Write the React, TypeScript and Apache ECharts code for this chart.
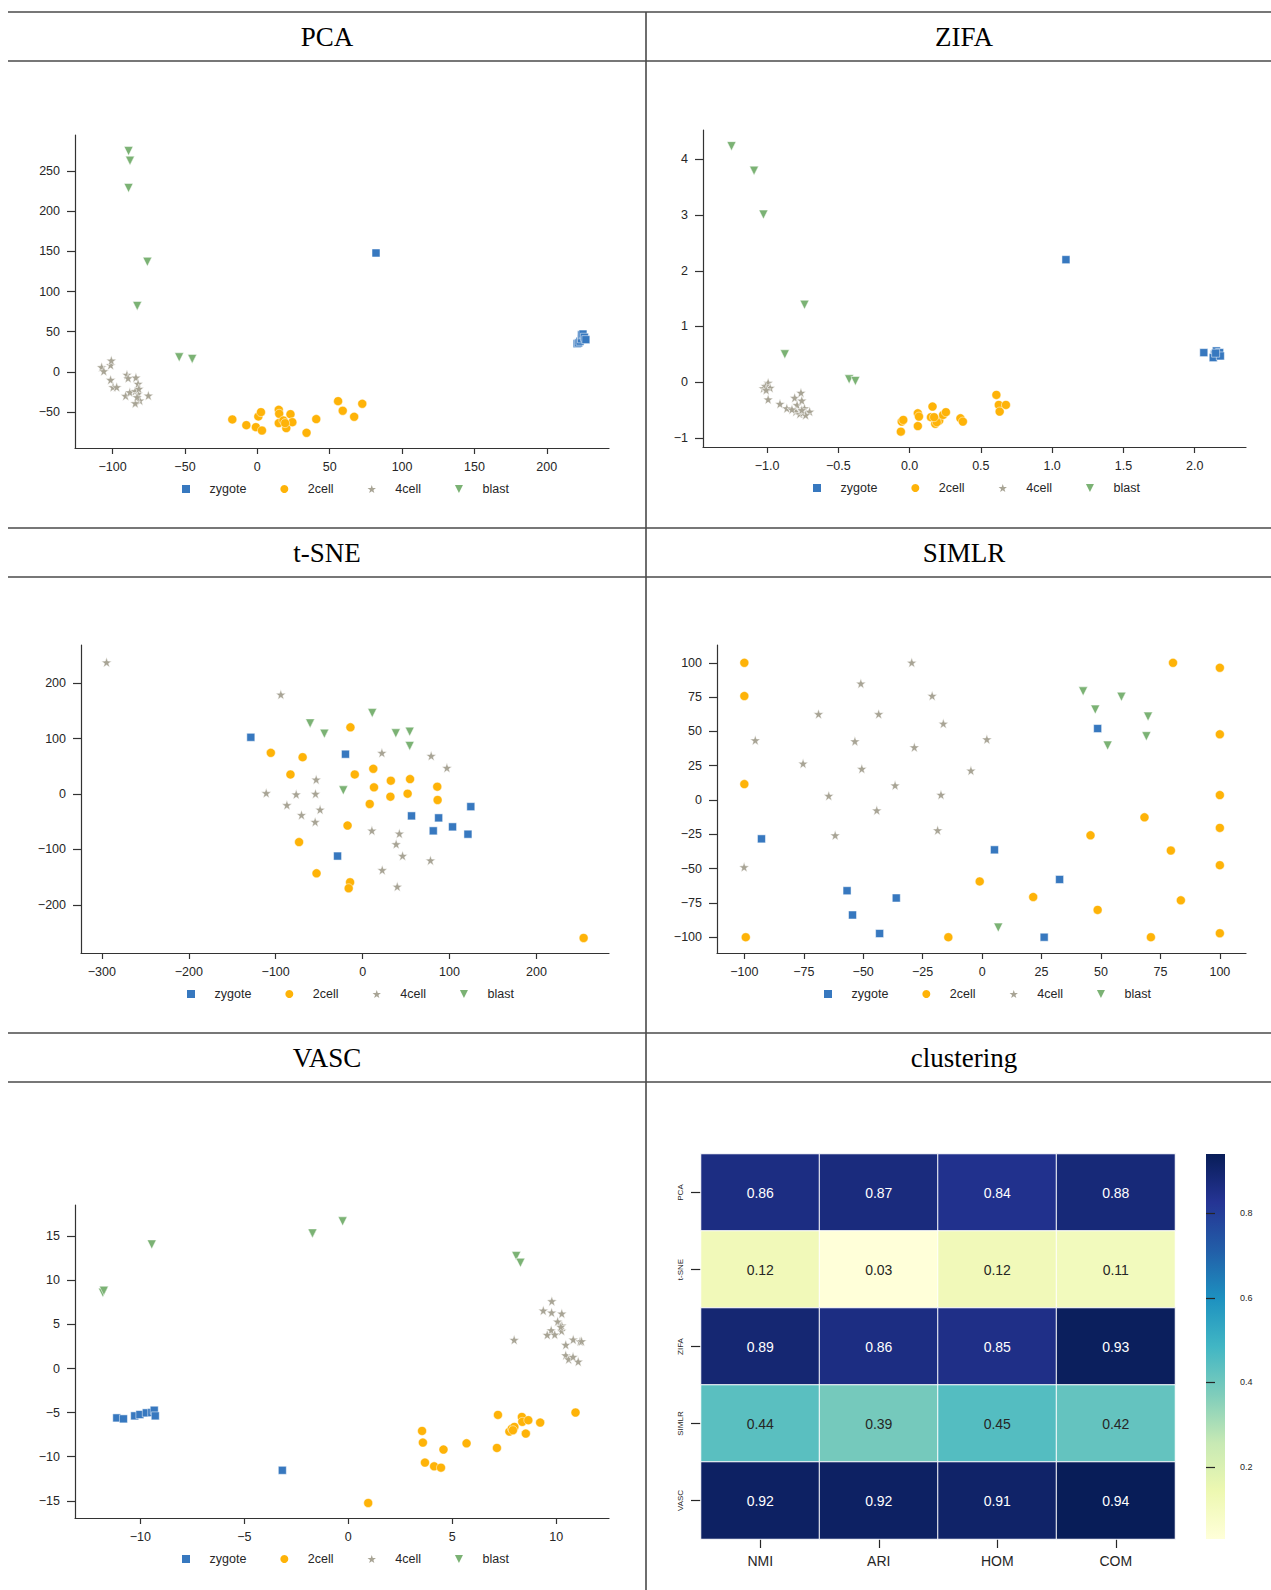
import React, { useEffect, useRef } from "react";
import * as echarts from "echarts";

const GROUPS = ["zygote", "2cell", "4cell", "blast"];
const COLORS = ["#3778bf", "#feb308", "#a8a495", "#7bb274"];
const STAR = "path://M0,-10 L2.35,-3.24 L9.51,-3.09 L3.8,1.24 L5.88,8.09 L0,4 L-5.88,8.09 L-3.8,1.24 L-9.51,-3.09 L-2.35,-3.24 Z";
const TRI = "path://M-1,-1 L1,-1 L0,1 Z";
const SQUARE = "path://M0,0 L1,0 L1,1 L0,1 Z";
const SYMBOLS = ["rect", "circle", STAR, TRI];
const SIZES = [8, 9, 10, 9];
const LEGEND_ICONS = [SQUARE, "circle", STAR, TRI];

// ---------- PCA ----------
const pcaZygote = [[82, 148], [221, 35], [222, 36], [223, 38], [224, 41], [224, 46], [225, 47], [226, 43], [227, 40]];
const pca2cell = [[-17.3, -59.4], [-7.6, -66.5], [-1.0, -69.0], [3.2, -73.2], [0.7, -55.7], [2.5, -50.3], [14.8, -47.4], [15.1, -52.4], [14.8, -64.0], [20.0, -70.2], [18.0, -60.7], [22.9, -52.8], [24.2, -62.8], [34.0, -76.1], [40.7, -59.0], [55.8, -36.6], [59.0, -48.6], [66.9, -56.1], [72.5, -39.9], [19.2, -64.0]];
const pca4cell = [[-107.6, 5.8], [-106.1, 0.8], [-101.4, 8.3], [-100.9, 14.1], [-101.4, -10.0], [-99.7, -19.1], [-97.2, -19.1], [-90.1, -3.7], [-89.3, -7.9], [-83.9, -7.1], [-82.4, -15.0], [-91.0, -29.9], [-88.1, -25.4], [-84.4, -24.1], [-82.4, -27.4], [-81.2, -35.7], [-84.4, -39.1], [-83.1, -31.6], [-75.3, -29.5], [-81.9, -21.2]];
const pcaBlast = [[-89, 275], [-88, 263], [-89, 229], [-76, 137], [-83, 82], [-54, 18], [-45, 16]];

// ---------- ZIFA ----------
const zifaZygote = [[1.097, 2.2], [2.064, 0.53], [2.139, 0.5], [2.152, 0.56], [2.166, 0.47], [2.13, 0.44], [2.175, 0.53], [2.18, 0.47], [2.147, 0.52]];
const zifa2cell = [[-0.055, -0.71], [-0.061, -0.89], [-0.044, -0.68], [0.058, -0.56], [0.066, -0.62], [0.058, -0.79], [0.161, -0.44], [0.15, -0.63], [0.18, -0.75], [0.208, -0.69], [0.235, -0.59], [0.255, -0.54], [0.357, -0.65], [0.374, -0.71], [0.609, -0.23], [0.626, -0.41], [0.632, -0.53], [0.676, -0.41], [0.191, -0.72], [0.172, -0.63]];
const zifa4cell = [[-1.025, -0.11], [-0.992, -0.01], [-0.978, -0.1], [-1.011, -0.07], [-0.992, -0.31], [-0.909, -0.39], [-0.861, -0.47], [-0.806, -0.28], [-0.789, -0.41], [-0.762, -0.19], [-0.756, -0.33], [-0.798, -0.53], [-0.77, -0.57], [-0.748, -0.55], [-0.737, -0.47], [-0.701, -0.53], [-0.729, -0.59], [-0.756, -0.5], [-1.006, -0.14], [-0.825, -0.49]];
const zifaBlast = [[-1.249, 4.24], [-1.091, 3.8], [-1.025, 3.01], [-0.737, 1.39], [-0.875, 0.5], [-0.424, 0.05], [-0.38, 0.02]];

// ---------- t-SNE ----------
const tsneZygote = [[-128.6, 102.4], [-19.7, 71.9], [56.3, -39.5], [87.5, -43.1], [81.3, -66.5], [103.5, -59.3], [121.2, -72.5], [124.5, -22.8], [-28.8, -112.0]];
const tsne2cell = [[-14.0, 120.4], [-105.6, 74.3], [-69.0, 66.5], [-83.0, 35.3], [-9.0, 35.3], [12.3, 45.5], [32.5, 24.0], [54.6, 26.9], [13.1, 12.0], [85.9, 13.2], [32.0, -4.8], [51.8, 0.6], [8.2, -18.0], [86.3, -10.8], [-17.3, -56.9], [-73.1, -86.8], [-53.0, -143.1], [-14.4, -159.3], [-16.0, -170.1], [254.3, -259.9]];
const tsne4cell = [[-294.6, 237.7], [-94.1, 179.6], [-53.4, 26.3], [-110.9, 1.8], [-76.4, -0.6], [-54.2, 0.6], [-87.1, -19.8], [-48.9, -28.1], [-70.3, -37.7], [-54.6, -50.3], [22.2, 74.3], [78.9, 68.9], [97.0, 47.3], [10.7, -65.9], [42.3, -71.3], [38.6, -90.4], [46.0, -111.4], [78.1, -119.8], [22.6, -137.1], [39.9, -167.1]];
const tsneBlast = [[-60.4, 127.5], [-44.0, 109.0], [11.1, 146.1], [38.2, 109.6], [54.2, 112.6], [54.2, 86.8], [-22.2, 6.6]];

// ---------- SIMLR ----------
const simlrZygote = [[-92.8, -28.3], [5.2, -36.3], [48.6, 52.1], [32.6, -57.9], [-56.8, -66.1], [-36.1, -71.4], [-54.5, -83.8], [-43.1, -97.3], [26.1, -100.0]];
const simlr2cell = [[-100, 100], [-100, 75.8], [-100, 11.6], [-99.4, -100], [-14.2, -100], [-1.0, -59.3], [21.5, -70.7], [45.6, -25.7], [48.6, -80.1], [68.3, -12.6], [71.0, -100], [79.4, -36.8], [83.6, -73.1], [80.3, 100], [100, 96.4], [100, 47.9], [100, 3.6], [100, -20.3], [100, -47.5], [100, -97.1]];
const simlr4cell = [[-29.6, 100.2], [-51.0, 85.0], [-21.0, 76.0], [-68.8, 62.7], [-43.5, 62.7], [-16.3, 55.7], [-95.4, 43.6], [-53.5, 42.9], [2.0, 44.3], [-28.5, 38.5], [-75.3, 26.6], [-50.6, 22.8], [-4.7, 21.5], [-36.6, 10.7], [-64.5, 3.1], [-17.3, 3.9], [-44.3, -7.5], [-61.8, -25.7], [-18.7, -22.0], [-100.1, -48.9]];
const simlrBlast = [[42.5, 79.2], [47.6, 65.9], [58.6, 75.3], [69.8, 60.8], [69.1, 46.5], [52.8, 39.7], [6.8, -93.0]];

// ---------- VASC ----------
const vascZygote = [[-3.17, -11.54], [-11.13, -5.6], [-10.81, -5.71], [-10.27, -5.37], [-10.02, -5.22], [-9.71, -5.03], [-9.45, -4.99], [-9.33, -4.73], [-9.28, -5.37]];
const vasc2cell = [[0.96, -15.25], [3.55, -7.08], [3.59, -8.4], [3.69, -10.67], [4.13, -11.09], [4.46, -11.24], [4.58, -9.19], [5.69, -8.48], [7.15, -9.01], [7.2, -5.26], [7.75, -7.15], [7.87, -6.81], [7.99, -6.62], [7.92, -7.0], [8.35, -5.49], [8.37, -6.05], [8.54, -7.38], [8.66, -5.86], [9.23, -6.13], [10.93, -4.99]];
const vasc4cell = [[9.79, 7.64], [9.38, 6.58], [9.78, 6.36], [10.27, 6.24], [10.07, 5.33], [10.27, 4.88], [10.26, 4.28], [9.76, 4.35], [9.57, 3.82], [9.93, 3.86], [7.98, 3.25], [10.46, 2.69], [10.82, 3.29], [11.15, 3.1], [11.22, 3.1], [10.46, 1.51], [10.6, 1.06], [10.81, 1.32], [11.06, 0.79], [10.22, 4.73]];
const vascBlast = [[-11.8, 8.59], [-11.75, 8.82], [-9.45, 14.07], [-1.72, 15.32], [-0.27, 16.69], [8.08, 12.75], [8.28, 11.99]];

// ---------- ticks ----------
const pcaXTicks = [-100, -50, 0, 50, 100, 150, 200];
const pcaYTicks = [-50, 0, 50, 100, 150, 200, 250];
const zifaXTicks = [-1.0, -0.5, 0.0, 0.5, 1.0, 1.5, 2.0];
const zifaYTicks = [-1, 0, 1, 2, 3, 4];
const tsneXTicks = [-300, -200, -100, 0, 100, 200];
const tsneYTicks = [-200, -100, 0, 100, 200];
const simlrTicks = [-100, -75, -50, -25, 0, 25, 50, 75, 100];
const vascXTicks = [-10, -5, 0, 5, 10];
const vascYTicks = [-15, -10, -5, 0, 5, 10, 15];

// ---------- heatmap ----------
const methods = ["PCA", "t-SNE", "ZIFA", "SIMLR", "VASC"];
const metrics = ["NMI", "ARI", "HOM", "COM"];
const scores = [
  [0.86, 0.87, 0.84, 0.88],
  [0.12, 0.03, 0.12, 0.11],
  [0.89, 0.86, 0.85, 0.93],
  [0.44, 0.39, 0.45, 0.42],
  [0.92, 0.92, 0.91, 0.94],
];
const colorbarTicks = [0.2, 0.4, 0.6, 0.8];
const YLGNBU = ["#ffffd9", "#edf8b1", "#c7e9b4", "#7fcdbb", "#41b6c4", "#1d91c0", "#225ea8", "#253494", "#081d58"];

const FONT = "'Liberation Sans', Arial, sans-serif";
const TEXT = "#262626";
const AXIS = "#333333";

const fmt = (v: number, d: number) => {
  const s = Math.abs(v).toFixed(d);
  return v < -1e-9 ? "\u2212" + s : s;
};

interface Panel {
  title: string;
  groups: number[][][];
  grid: { left: number; top: number; width: number; height: number };
  xr: [number, number];
  yr: [number, number];
  xt: number[];
  yt: number[];
  xd: number;
  yd: number;
  legend: { left: number; top: number };
  titlePos: [number, number];
}

const panels: Panel[] = [
  { title: "PCA", groups: [pcaZygote, pca2cell, pca4cell, pcaBlast], grid: { left: 75, top: 135, width: 534, height: 313 }, xr: [-126, 243], yr: [-95, 295], xt: pcaXTicks, yt: pcaYTicks, xd: 0, yd: 0, legend: { left: 182, top: 482 }, titlePos: [327, 37] },
  { title: "ZIFA", groups: [zifaZygote, zifa2cell, zifa4cell, zifaBlast], grid: { left: 703, top: 130, width: 543, height: 317 }, xr: [-1.449, 2.36], yr: [-1.166, 4.53], xt: zifaXTicks, yt: zifaYTicks, xd: 1, yd: 0, legend: { left: 813, top: 481 }, titlePos: [964, 37] },
  { title: "t-SNE", groups: [tsneZygote, tsne2cell, tsne4cell, tsneBlast], grid: { left: 81, top: 645, width: 528, height: 308 }, xr: [-324, 283.5], yr: [-287, 269], xt: tsneXTicks, yt: tsneYTicks, xd: 0, yd: 0, legend: { left: 187, top: 987 }, titlePos: [327, 553] },
  { title: "SIMLR", groups: [simlrZygote, simlr2cell, simlr4cell, simlrBlast], grid: { left: 717, top: 645, width: 529, height: 308 }, xr: [-111.5, 111], yr: [-111.5, 113], xt: simlrTicks, yt: simlrTicks, xd: 0, yd: 0, legend: { left: 824, top: 987 }, titlePos: [964, 553] },
  { title: "VASC", groups: [vascZygote, vasc2cell, vasc4cell, vascBlast], grid: { left: 75, top: 1205, width: 534, height: 313 }, xr: [-13.14, 12.54], yr: [-16.95, 18.54], xt: vascXTicks, yt: vascYTicks, xd: 0, yd: 0, legend: { left: 182, top: 1552 }, titlePos: [327, 1058] },
];

const HLINES = [12, 61, 528, 577, 1033, 1082];

function buildOption() {
  const grid: any[] = [];
  const xAxis: any[] = [];
  const yAxis: any[] = [];
  const series: any[] = [];
  const legend: any[] = [];
  const graphic: any[] = [];

  panels.forEach((p, i) => {
    grid.push({ ...p.grid, containLabel: false });
    xAxis.push({
      type: "value", gridIndex: i, min: p.xr[0], max: p.xr[1], position: "bottom",
      axisLine: { show: true, onZero: false, lineStyle: { color: AXIS, width: 1.2 } },
      axisTick: { show: true, inside: false, length: 6, customValues: p.xt, lineStyle: { color: AXIS, width: 1.2 } },
      axisLabel: { show: true, customValues: p.xt, margin: 12, color: TEXT, fontSize: 12.5, fontFamily: FONT, formatter: (v: number) => fmt(v, p.xd) },
      splitLine: { show: false },
    });
    yAxis.push({
      type: "value", gridIndex: i, min: p.yr[0], max: p.yr[1], position: "left",
      axisLine: { show: true, onZero: false, lineStyle: { color: AXIS, width: 1.2 } },
      axisTick: { show: true, inside: false, length: 8, customValues: p.yt, lineStyle: { color: AXIS, width: 1.2 } },
      axisLabel: { show: true, customValues: p.yt, margin: 15, color: TEXT, fontSize: 12.5, fontFamily: FONT, formatter: (v: number) => fmt(v, p.yd) },
      splitLine: { show: false },
    });
    p.groups.forEach((pts, g) => {
      series.push({
        type: "scatter", name: GROUPS[g], xAxisIndex: i, yAxisIndex: i,
        data: pts, symbol: SYMBOLS[g], symbolSize: SIZES[g],
        itemStyle: { color: COLORS[g], borderColor: "#ffffff", borderWidth: 0.5, opacity: 1 },
        emphasis: { disabled: true },
      });
    });
    legend.push({
      show: true, left: p.legend.left, top: p.legend.top, orient: "horizontal", padding: 0,
      itemWidth: 37, itemHeight: 8, itemGap: 34, selectedMode: false,
      textStyle: { fontSize: 12.5, color: TEXT, fontFamily: FONT, lineHeight: 14 },
      data: GROUPS.map((g, k) => ({ name: g, icon: LEGEND_ICONS[k], itemStyle: { color: COLORS[k], borderWidth: 0 } })),
    });
    graphic.push({
      type: "text", x: p.titlePos[0], y: p.titlePos[1], silent: true,
      style: { text: p.title, fontSize: 27, fontFamily: "'Liberation Serif', 'Times New Roman', serif", fill: "#000", textAlign: "center", textVerticalAlign: "middle" },
    });
  });

  // heatmap grid (index 5)
  const hi = panels.length;
  grid.push({ left: 701, top: 1154, width: 474, height: 385, containLabel: false });
  xAxis.push({
    type: "category", gridIndex: hi, data: metrics, position: "bottom",
    axisLine: { show: false },
    axisTick: { show: true, alignWithLabel: true, length: 9, lineStyle: { color: TEXT, width: 1.2 } },
    axisLabel: { margin: 15, color: TEXT, fontSize: 14, fontFamily: FONT },
    splitLine: { show: false },
  });
  yAxis.push({
    type: "category", gridIndex: hi, data: methods, inverse: true, position: "left",
    axisLine: { show: false },
    axisTick: { show: true, alignWithLabel: true, length: 10, lineStyle: { color: TEXT, width: 1.2 } },
    axisLabel: { margin: 17, rotate: 90, color: TEXT, fontSize: 8, fontFamily: FONT },
    splitLine: { show: false },
  });
  const heatData: any[] = [];
  scores.forEach((row, r) => row.forEach((v, c) => {
    heatData.push({ value: [c, r, v], label: { color: v > 0.6 ? "#ffffff" : TEXT } });
  }));
  series.push({
    type: "heatmap", xAxisIndex: hi, yAxisIndex: hi, data: heatData,
    itemStyle: { borderColor: "#ffffff", borderWidth: 1 },
    label: { show: true, fontSize: 14, fontFamily: FONT, formatter: (p: any) => p.value[2].toFixed(2) },
    emphasis: { disabled: true },
  });

  // colorbar grid (index 6)
  const ci = hi + 1;
  const stops = YLGNBU.map((c, k) => ({ offset: k / (YLGNBU.length - 1), color: c }));
  grid.push({
    left: 1206, top: 1154, width: 19, height: 385, show: true, borderWidth: 0,
    backgroundColor: new echarts.graphic.LinearGradient(0, 1, 0, 0, stops),
  });
  xAxis.push({ type: "value", gridIndex: ci, min: 0, max: 1, show: false });
  yAxis.push({
    type: "value", gridIndex: ci, min: 0.03, max: 0.94, position: "right",
    axisLine: { show: false },
    axisTick: { show: true, inside: false, length: 9, customValues: colorbarTicks, lineStyle: { color: TEXT, width: 1.2 } },
    axisLabel: { show: true, customValues: colorbarTicks, margin: 15, color: TEXT, fontSize: 9, fontFamily: FONT, formatter: (v: number) => v.toFixed(1) },
    splitLine: { show: false },
  });
  series.push({ type: "scatter", xAxisIndex: ci, yAxisIndex: ci, data: [], silent: true });

  // table lines
  HLINES.forEach((y) => graphic.push({ type: "line", silent: true, shape: { x1: 8, y1: y, x2: 1271, y2: y }, style: { stroke: "#4a4a4a", lineWidth: 1.6 } }));
  graphic.push({ type: "line", silent: true, shape: { x1: 646, y1: 12, x2: 646, y2: 1590 }, style: { stroke: "#4a4a4a", lineWidth: 1.6 } });
  graphic.push({
    type: "text", x: 964, y: 1058, silent: true,
    style: { text: "clustering", fontSize: 27, fontFamily: "'Liberation Serif', 'Times New Roman', serif", fill: "#000", textAlign: "center", textVerticalAlign: "middle" },
  });

  return {
    animation: false,
    backgroundColor: "#ffffff",
    textStyle: { fontFamily: FONT },
    grid, xAxis, yAxis, series, legend, graphic,
    visualMap: {
      type: "continuous", show: false, min: 0.03, max: 0.94, seriesIndex: series.length - 2, dimension: 2,
      inRange: { color: YLGNBU },
    },
  };
}

export default function App() {
  const ref = useRef<HTMLDivElement>(null);
  useEffect(() => {
    document.body.style.margin = "0";
    if (!ref.current) return;
    const chart = echarts.init(ref.current, null, { renderer: "svg" });
    chart.setOption(buildOption() as any);
    return () => chart.dispose();
  }, []);
  return <div ref={ref} style={{ width: 1271, height: 1590 }} />;
}
